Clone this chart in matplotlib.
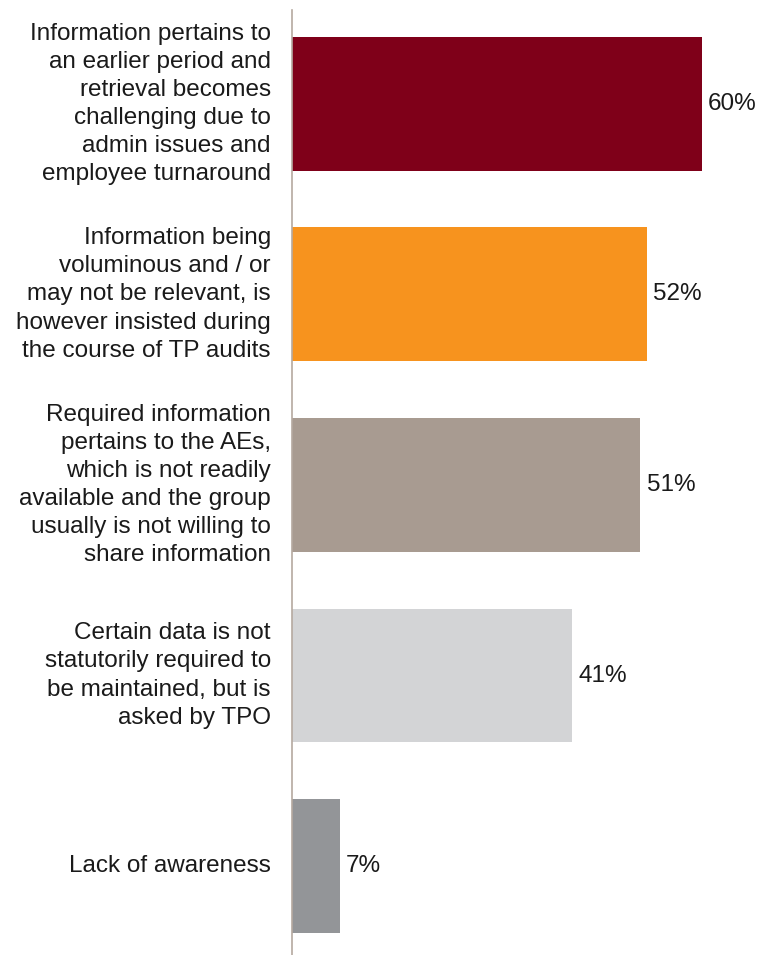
import matplotlib.pyplot as plt

plt.rcParams['font.family'] = ['Liberation Sans', 'DejaVu Sans']

# reasons and share of respondents (%)
labels = [
    "Information pertains to\nan earlier period and\nretrieval becomes\nchallenging due to\nadmin issues and\nemployee turnaround",
    "Information being\nvoluminous and / or\nmay not be relevant, is\nhowever insisted during\nthe course of TP audits",
    "Required information\npertains to the AEs,\nwhich is not readily\navailable and the group\nusually is not willing to\nshare information",
    "Certain data is not\nstatutorily required to\nbe maintained, but is\nasked by TPO",
    "Lack of awareness",
]
values = [60, 52, 51, 41, 7]
colors = ['#7F0019', '#F7931E', '#A89B91', '#D3D4D6', '#939598']

fig = plt.figure(figsize=(7.58, 9.55), dpi=100)
W, H = 758, 955
ax = fig.add_axes([292 / W, 0, 1 - 292 / W, 1 - 10 / H])

pos = list(range(len(values)))
ax.barh(pos, values, height=0.703, color=colors, zorder=2)

ax.set_xlim(0, 68.2)
ax.set_ylim(4.467, -0.493)

# value labels just past the bar ends
for y, v in zip(pos, values):
    ax.text(v + 0.9, y, f"{v}%", va='center', ha='left', fontsize=17.5,
            color='#1a1a1a')

# category labels, right-aligned against the axis line
for y, lab in zip(pos, labels):
    ax.text(-3.1, y, lab, va='center', ha='right', fontsize=17.5,
            color='#1a1a1a', linespacing=1.36, clip_on=False)

for s in ['top', 'right', 'bottom']:
    ax.spines[s].set_visible(False)
ax.spines['left'].set_color('#B5A9A0')
ax.spines['left'].set_linewidth(1.2)
ax.set_xticks([])
ax.set_yticks([])

fig.savefig('out.png', dpi=100)
